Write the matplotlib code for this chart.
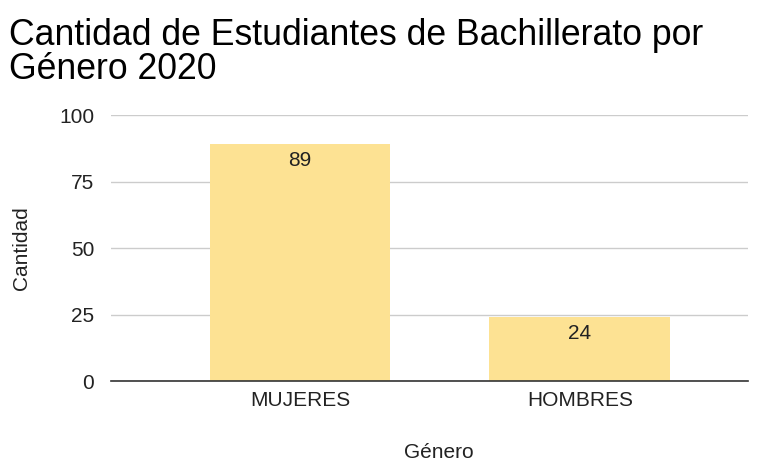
import matplotlib.pyplot as plt

categorias = ["MUJERES", "HOMBRES"]
cantidades = [89, 24]
ticks_y = [0, 25, 50, 75, 100]
titulo = ["Cantidad de Estudiantes de Bachillerato por", "Género 2020"]

plt.rcParams['font.family'] = ['Liberation Sans', 'DejaVu Sans']

fig = plt.figure(figsize=(7.6, 4.62), dpi=100)
ax = fig.add_axes([0.146, 0.175, 0.838, 0.576])

x = list(range(len(categorias)))
bars = ax.bar(x, cantidades, width=0.646, color="#fde293", zorder=2)

for b, v in zip(bars, cantidades):
    ax.annotate(str(v), (b.get_x() + b.get_width() / 2, v), xytext=(0, -5),
                textcoords="offset points", ha="center", va="top",
                fontsize=15, color="#222222", zorder=3)

ax.set_xlim(-0.675, 1.6)
ax.set_ylim(0, 100)
ax.set_yticks(ticks_y)
ax.set_xticks(x)
ax.set_xticklabels(categorias)
ax.tick_params(axis="both", length=0, labelsize=15, colors="#222222")
ax.tick_params(axis="y", pad=12)
ax.tick_params(axis="x", pad=7)

ax.grid(axis="y", color="#cccccc", linewidth=1, zorder=0)
for s in ["top", "right", "left"]:
    ax.spines[s].set_visible(False)
ax.spines["bottom"].set_color("#333333")
ax.spines["bottom"].set_linewidth(1.2)
ax.spines["bottom"].set_zorder(3)

ax.set_ylabel("Cantidad", fontsize=15, color="#222222", labelpad=20)
ax.set_xlabel("Género", fontsize=15, color="#222222")
ax.xaxis.set_label_coords(0.515, -0.232)

for i, linea in enumerate(titulo):
    fig.text(0.012, 1 - (45 + 34 * i) / 462, linea, fontsize=25.7,
             color="#000000", ha="left", va="baseline")

fig.savefig("out.png", dpi=100, facecolor="white")
